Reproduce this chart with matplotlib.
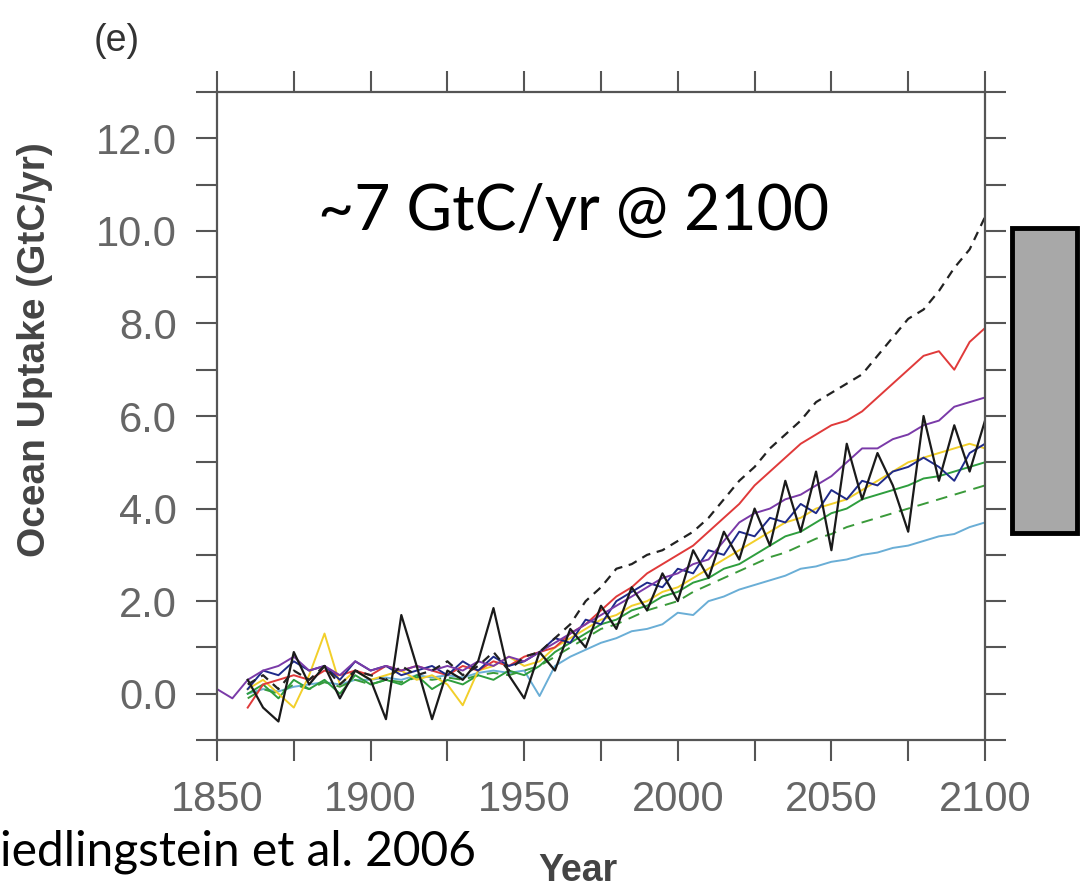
import matplotlib.pyplot as plt
import matplotlib.patches as patches
from matplotlib.ticker import MultipleLocator, FormatStrFormatter
import numpy as np

# model years (5-yr steps)
years = np.arange(1860, 2101, 5)
years_purple = np.arange(1850, 2101, 5)

# ocean uptake (GtC/yr), rows are 1860-1905, 1910-1955, 1960-2005, 2010-2055, 2060-2100
light_blue = [0.0, 0.1, 0.05, 0.15, 0.2, 0.25, 0.2, 0.3, 0.3, 0.35,
              0.3, 0.4, 0.35, 0.4, 0.35, 0.45, 0.5, 0.45, 0.5, -0.05,
              0.6, 0.8, 0.95, 1.1, 1.2, 1.35, 1.4, 1.5, 1.75, 1.7,
              2.0, 2.1, 2.25, 2.35, 2.45, 2.55, 2.7, 2.75, 2.85, 2.9,
              3.0, 3.05, 3.15, 3.2, 3.3, 3.4, 3.45, 3.6, 3.7]
green_dashed = [-0.1, 0.1, 0.0, 0.2, 0.1, 0.25, 0.15, 0.3, 0.2, 0.3,
                0.25, 0.35, 0.3, 0.35, 0.3, 0.4, 0.45, 0.4, 0.5, 0.6,
                0.8, 1.0, 1.2, 1.4, 1.5, 1.65, 1.8, 1.9, 2.0, 2.2,
                2.35, 2.5, 2.65, 2.8, 2.95, 3.05, 3.2, 3.35, 3.45, 3.6,
                3.7, 3.8, 3.9, 4.0, 4.1, 4.2, 4.3, 4.4, 4.5]
green = [0.0, 0.2, -0.1, 0.3, 0.1, 0.3, 0.0, 0.4, 0.2, 0.3,
         0.2, 0.4, 0.1, 0.3, 0.2, 0.4, 0.3, 0.5, 0.4, 0.6,
         0.9, 1.1, 1.3, 1.5, 1.6, 1.8, 1.9, 2.1, 2.2, 2.4,
         2.5, 2.7, 2.8, 3.0, 3.2, 3.4, 3.5, 3.7, 3.9, 4.0,
         4.2, 4.3, 4.4, 4.5, 4.65, 4.7, 4.8, 4.9, 5.0]
yellow = [0.1, 0.3, 0.0, -0.3, 0.4, 1.3, 0.2, 0.5, 0.3, 0.4,
          0.5, 0.3, 0.4, 0.2, -0.25, 0.5, 0.6, 0.8, 0.6, 0.7,
          1.0, 1.2, 1.4, 1.6, 1.7, 1.9, 2.0, 2.2, 2.3, 2.5,
          2.7, 2.9, 3.1, 3.3, 3.5, 3.7, 3.8, 4.0, 4.1, 4.2,
          4.4, 4.6, 4.8, 5.0, 5.1, 5.2, 5.3, 5.4, 5.3]
red = [-0.3, 0.2, 0.3, 0.4, 0.3, 0.5, 0.4, 0.5, 0.4, 0.6,
       0.5, 0.6, 0.5, 0.4, 0.6, 0.5, 0.7, 0.6, 0.8, 0.9,
       1.0, 1.3, 1.5, 1.8, 2.1, 2.3, 2.6, 2.8, 3.0, 3.2,
       3.5, 3.8, 4.1, 4.5, 4.8, 5.1, 5.4, 5.6, 5.8, 5.9,
       6.1, 6.4, 6.7, 7.0, 7.3, 7.4, 7.0, 7.6, 7.9]
navy = [0.1, 0.5, 0.4, 0.7, 0.5, 0.6, 0.3, 0.7, 0.5, 0.6,
        0.4, 0.5, 0.6, 0.4, 0.7, 0.5, 0.8, 0.6, 0.7, 0.9,
        1.2, 1.1, 1.6, 1.5, 2.0, 2.2, 2.4, 2.3, 2.7, 2.6,
        3.1, 3.0, 3.5, 3.4, 3.8, 3.7, 4.1, 3.9, 4.4, 4.2,
        4.6, 4.5, 4.8, 4.9, 5.1, 4.9, 4.6, 5.2, 5.4]
purple = [0.1, -0.1,
          0.3, 0.5, 0.6, 0.8, 0.5, 0.6, 0.4, 0.7, 0.5, 0.6,
          0.5, 0.6, 0.5, 0.6, 0.5, 0.7, 0.6, 0.8, 0.7, 0.9,
          1.1, 1.3, 1.5, 1.7, 1.9, 2.1, 2.3, 2.5, 2.6, 2.8,
          2.9, 3.3, 3.7, 3.9, 4.0, 4.2, 4.3, 4.5, 4.7, 5.0,
          5.3, 5.3, 5.5, 5.6, 5.8, 5.9, 6.2, 6.3, 6.4]
black = [0.3, -0.3, -0.6, 0.9, 0.2, 0.6, -0.1, 0.5, 0.3, -0.55,
         1.7, 0.6, -0.55, 0.5, 0.3, 0.7, 1.85, 0.4, -0.1, 0.9,
         0.5, 1.4, 1.0, 1.9, 1.4, 2.3, 1.8, 2.6, 2.0, 3.1,
         2.5, 3.5, 2.9, 4.0, 3.2, 4.6, 3.5, 4.8, 3.1, 5.4,
         4.2, 5.2, 4.5, 3.5, 6.0, 4.6, 5.8, 4.8, 5.9]
black_dashed = [0.2, 0.4, 0.1, 0.5, 0.3, 0.6, 0.2, 0.5, 0.4, 0.3,
                0.6, 0.4, 0.5, 0.7, 0.4, 0.6, 0.9, 0.5, 0.8, 0.9,
                1.2, 1.5, 2.0, 2.3, 2.7, 2.8, 3.0, 3.1, 3.3, 3.5,
                3.8, 4.2, 4.6, 4.9, 5.3, 5.6, 5.9, 6.3, 6.5, 6.7,
                6.9, 7.3, 7.7, 8.1, 8.3, 8.7, 9.2, 9.6, 10.3]

AXCOL = '#555555'
fig = plt.figure(figsize=(10.8, 8.91), dpi=100)
ax = fig.add_axes([217/1080, 1-740/891, (985-217)/1080, (740-92)/891])

lw = 1.4
ax.plot(years, light_blue, color='#6aaed6', lw=lw)
ax.plot(years, green_dashed, color='#3a9a3a', lw=lw, linestyle=(0, (6, 4)))
ax.plot(years, green, color='#2e9e3e', lw=lw)
ax.plot(years, yellow, color='#f2cf2a', lw=lw)
ax.plot(years, red, color='#e03a3a', lw=lw)
ax.plot(years, navy, color='#1f2a8a', lw=lw)
ax.plot(years_purple, purple, color='#7a3aa8', lw=lw)
ax.plot(years, black, color='#1a1a1a', lw=1.6)
ax.plot(years, black_dashed, color='#222222', lw=1.6, linestyle=(0, (4, 3)))

ax.set_xlim(1850, 2100)
ax.set_ylim(-1, 13)
ax.xaxis.set_major_locator(MultipleLocator(50))
ax.xaxis.set_minor_locator(MultipleLocator(25))
ax.yaxis.set_major_locator(MultipleLocator(2))
ax.yaxis.set_minor_locator(MultipleLocator(1))
ax.yaxis.set_major_formatter(FormatStrFormatter('%.1f'))

for s in ax.spines.values():
    s.set_color(AXCOL)
    s.set_linewidth(1.6)
for which in ['major', 'minor']:
    ax.tick_params(which=which, direction='out', length=15, width=1.5,
                   color=AXCOL, top=True, right=True,
                   labeltop=False, labelright=False)
ax.tick_params(which='major', labelsize=30, labelcolor='#666666', pad=14)
for lab in ax.get_xticklabels() + ax.get_yticklabels():
    lab.set_family('Liberation Sans')

fig.text(35/1080, 1-350/891, 'Ocean Uptake (GtC/yr)', rotation=90,
         ha='center', va='center', fontsize=28, fontweight='bold',
         color='#444444', family='Liberation Sans')
fig.text(578/1080, 2/891, 'Year', ha='center', va='bottom', fontsize=27,
         fontweight='bold', color='#444444', family='Liberation Sans')
fig.text(94/1080, 1-41/891, '(e)', ha='left', va='center', fontsize=27,
         color='#333333', family='Liberation Sans')

fig.text(318/1080, 1-230/891, '~7 GtC/yr @ 2100', ha='left', va='baseline',
         fontsize=45, color='black', family='Lato')
fig.text(0, 1-866/891, 'iedlingstein et al. 2006', ha='left', va='baseline',
         fontsize=34.5, color='black', family='Lato')

box = patches.Rectangle((1012/1080, 1-533/891), (1077-1012)/1080, 305/891,
                        transform=fig.transFigure, facecolor='#a8a8a8',
                        edgecolor='black', linewidth=3.5)
fig.patches.append(box)

plt.savefig('out.png', dpi=100)
